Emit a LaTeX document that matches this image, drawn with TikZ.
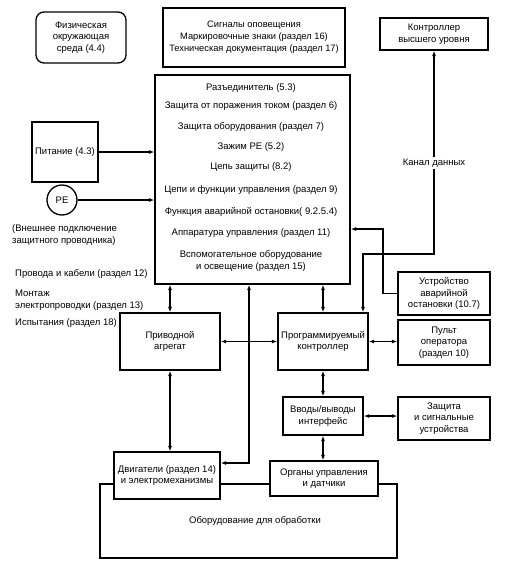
\documentclass[tikz,border=0pt]{standalone}
\usepackage{fontspec}
\setmainfont{Liberation Sans}
\usetikzlibrary{arrows.meta,calc}
\begin{document}
\begin{tikzpicture}[x=1pt,y=-1pt,
  font=\fontsize{9.5}{11.5}\selectfont,
  box/.style={draw, line width=1.3pt, inner sep=1pt, align=center},
  conn/.style={line width=1.1pt},
  tip/.tip={Latex[length=5.5pt,width=4pt]},
  txt/.style={inner sep=0pt, align=center},
  ltxt/.style={inner sep=0pt, anchor=west, align=left}]
\useasboundingbox (0,0) rectangle (506,570);
% boxes
\node[box, rounded corners=8pt, minimum width=90pt, minimum height=51pt] (env) at (81,37.5) {Физическая\\окружающая\\среда (4.4)};
\node[box, minimum width=182pt, minimum height=59pt, font=\fontsize{9.3}{12}\selectfont] (sig) at (254,37.5) {Сигналы оповещения\\Маркировочные знаки (раздел 16)\\Техническая документация (раздел 17)};
\node[box, minimum width=108pt, minimum height=32pt] (top) at (434,34) {Контроллер\\высшего уровня};
\node[box, minimum width=195pt, minimum height=209pt] (main) at (252.5,179.5) {};
\node[box, minimum width=66pt, minimum height=60pt] (pit) at (65,152) {Питание (4.3)};
\node[draw, line width=1.3pt, circle, minimum size=30pt, inner sep=0pt] (pe) at (62,200) {PE};
\node[box, minimum width=100pt, minimum height=57pt] (priv) at (170,341.5) {Приводной\\агрегат};
\node[box, minimum width=90pt, minimum height=57pt] (pc) at (323,341.5) {Программируемый\\контроллер};
\node[box, minimum width=92pt, minimum height=43pt] (esd) at (444,293.5) {Устройство\\аварийной\\остановки (10.7)};
\node[box, minimum width=92pt, minimum height=45pt] (pult) at (444,342.5) {Пульт\\оператора\\(раздел 10)};
\node[box, minimum width=80pt, minimum height=38pt] (io) at (323,416) {Вводы/выводы\\интерфейс};
\node[box, minimum width=92pt, minimum height=43pt] (prot) at (444,418.5) {Защита\\и сигнальные\\устройства};
\node[box, minimum width=108pt, minimum height=35pt] (org) at (324,478.5) {Органы управления\\и датчики};
\node[box, minimum width=106pt, minimum height=47pt] (mot) at (167,475.5) {Двигатели (раздел 14)\\и электромеханизмы};
% main box texts
\node[txt] (m1) at (251,88) {Разъединитель (5.3)};
\node[txt] (m2) at (251,106) {Защита от поражения током (раздел 6)};
\node[txt] (m3) at (251,127) {Защита оборудования (раздел 7)};
\node[txt] (m4) at (251,147) {Зажим PE (5.2)};
\node[txt] (m5) at (251,167) {Цепь защиты (8.2)};
\node[txt] (m6) at (251,190) {Цепи и функции управления (раздел 9)};
\node[txt] (m7) at (251,212) {Функция аварийной остановки( 9.2.5.4)};
\node[txt] (m8) at (251,233) {Аппаратура управления (раздел 11)};
\node[txt] (m9) at (251,261) {Вспомогательное оборудование\\и освещение (раздел 15)};
% left texts
\node[ltxt] (pe2) at (12,235) {(Внешнее подключение\\защитного проводника)};
\node[ltxt] (l1) at (15,274) {Провода и кабели (раздел 12)};
\node[ltxt] (l2) at (15,300) {Монтаж\\электропроводки (раздел 13)};
\node[ltxt] (l3) at (15,323) {Испытания (раздел 18)};
% coordinates
\coordinate (c1) at (363,254);
\coordinate (c2) at (383,229);
\coordinate (c3) at (249,463);
\coordinate (e1) at (100,484);
\coordinate (e2) at (397,558);
% connectors
\draw[conn,-tip] (pit.east) -- (pit.east -| main.west);
\draw[conn,-tip] (pe.east) -- (pe.east -| main.west);
\draw[conn,tip-tip] (top.south) -- (top.south |- c1) -- (c1) -- (c1 |- pc.north);
\node[fill=white, inner sep=1.5pt] (lbl) at (434,163) {Канал данных};
\draw[conn,-tip] (esd.west) -- (esd.west -| c2) -- (c2) -- (c2 -| main.east);
\draw[conn,tip-tip] (main.south -| priv.north) -- (priv.north);
\draw[conn,tip-tip] (main.south -| pc.north) -- (pc.north);
\draw[conn,tip-tip] (main.south -| c3) -- (c3) -- (c3 -| mot.east);
\draw[conn,tip-tip] (priv.east) -- (pc.west);
\draw[conn,tip-tip] (priv.south) -- (priv.south |- mot.north);
\draw[conn,tip-tip] (pc.east) -- (pc.east -| pult.west);
\draw[conn,tip-tip] (pc.south) -- (io.north);
\draw[conn,tip-tip] (io.east) -- (io.east -| prot.west);
\draw[conn,tip-tip] (io.south) -- (io.south |- org.north);
% processing equipment outline
\draw[line width=1.1pt] (mot.west |- e1) -- (e1) -- (e1 |- e2) -- (e2) -- (e2 |- e1) -- (org.east |- e1);
\draw[line width=1.1pt] (mot.east |- e1) -- (org.west |- e1);
\node[txt] (eq) at (255,521) {Оборудование для обработки};
\end{tikzpicture}
\end{document}
